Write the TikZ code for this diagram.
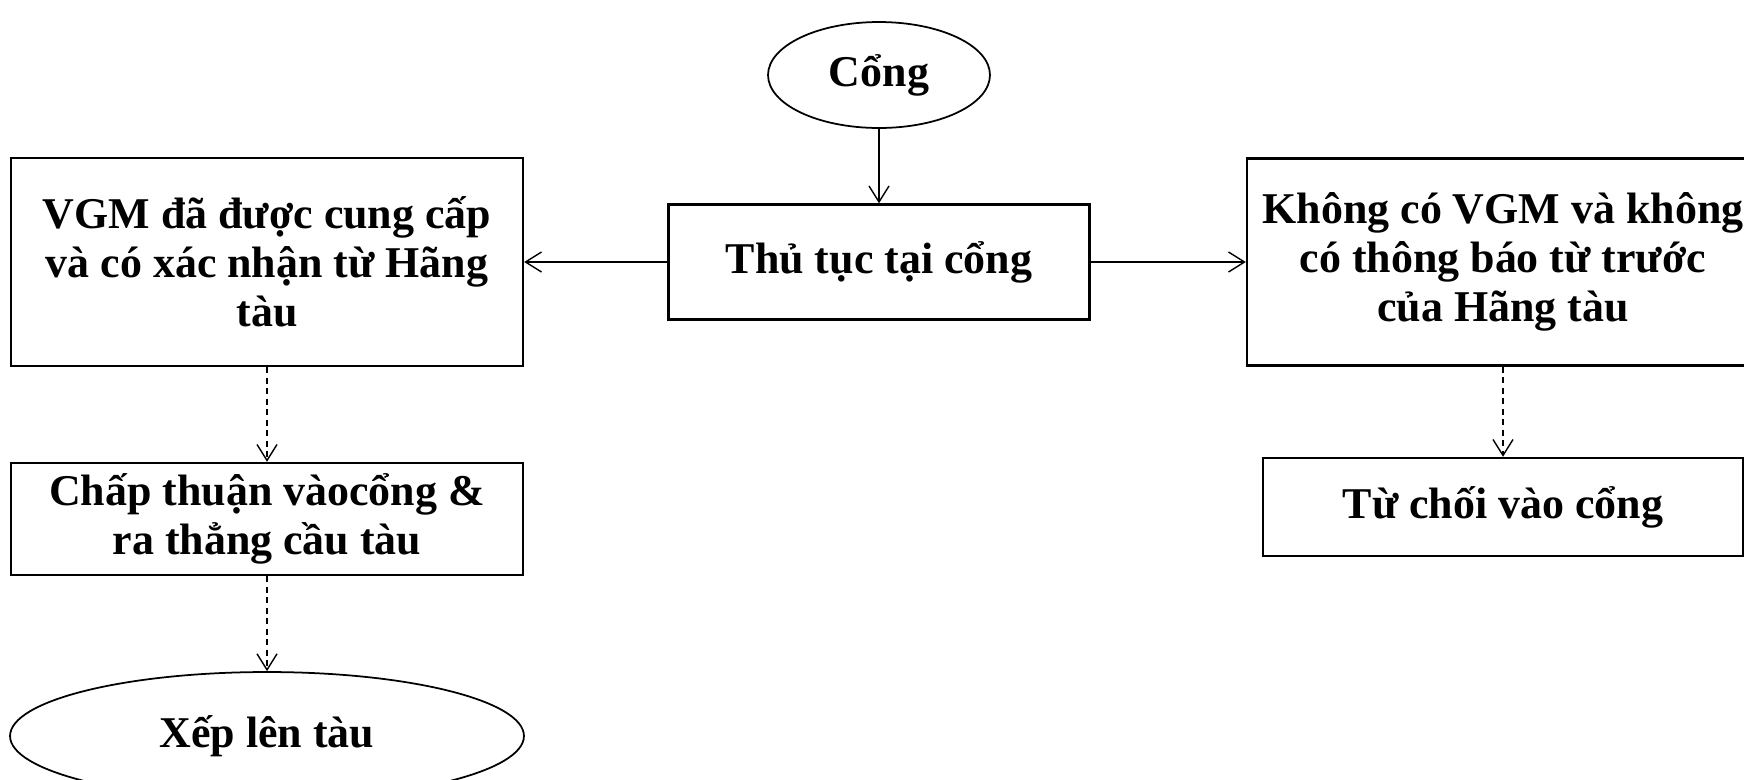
\documentclass[tikz,border=0pt]{standalone}
\usepackage{fontspec}
\setmainfont{Liberation Serif}
\usetikzlibrary{shapes.geometric,arrows.meta}
\tikzset{box/.style={draw,rectangle,line width=1.4pt,align=center,inner sep=2pt,
        font=\bfseries\fontsize{25}{28}\selectfont},
        oval/.style={box,ellipse,line width=1pt},
        flow/.style={line width=0.8pt,-{Straight Barb[length=3.2mm,width=4mm]}},
        dflow/.style={flow,dash pattern=on 1.2mm off 0.9mm}}

\begin{document}
\begin{tikzpicture}[x=0.02cm,y=-0.02cm]
  \clip (0,0) rectangle (1744,779);
  \node[oval,minimum width=4.44cm,minimum height=2.12cm] (cong) at (879,75) {Cổng};
  \node[box,minimum width=8.42cm,minimum height=2.3cm] (thutuc) at (879,262) {Thủ tục tại cổng};
  \node[box,minimum width=10.24cm,minimum height=4.16cm] (vgm) at (267,262)
     {VGM đã được cung cấp\\ và có xác nhận từ Hãng\\ tàu};
  \node[box,minimum width=10.24cm,minimum height=4.14cm] (khong) at (1503,262)
     {Không có VGM và không\\ có thông báo từ trước\\ của Hãng tàu};
  \node[box,minimum width=10.24cm,minimum height=2.24cm] (chap) at (267,519)
     {Chấp thuận vàocổng \&\\ ra thẳng cầu tàu};
  \node[box,minimum width=9.6cm,minimum height=1.96cm] (tuchoi) at (1503,507) {Từ chối vào cổng};
  \node[oval,minimum width=10.28cm,minimum height=2.56cm] (xep) at (267,736) {Xếp lên tàu};

  \draw[flow] (cong) -- (thutuc);
  \draw[flow] (thutuc) -- (vgm);
  \draw[flow] (thutuc) -- (khong);
  \draw[dflow] (vgm) -- (chap);
  \draw[dflow] (chap) -- (xep);
  \draw[dflow] (khong) -- (tuchoi);
\end{tikzpicture}
\end{document}
